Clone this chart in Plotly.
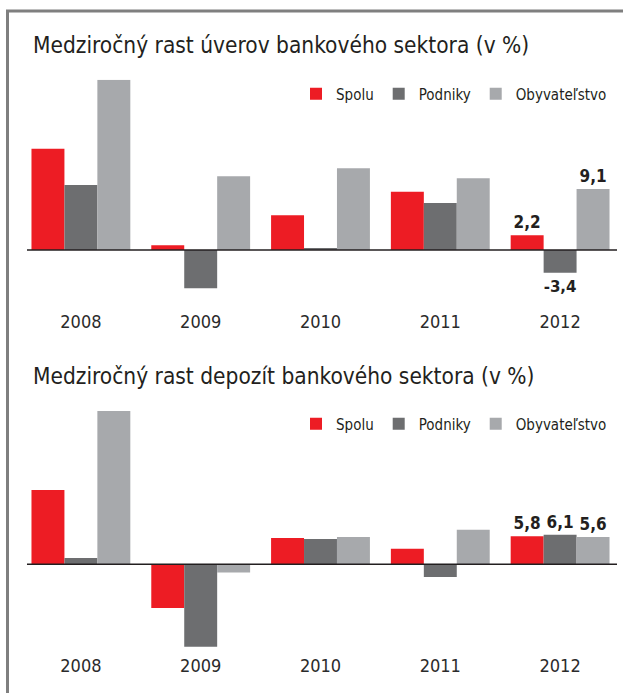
import plotly.graph_objects as go

years = ["2008", "2009", "2010", "2011", "2012"]
series_names = ["Spolu", "Podniky", "Obyvateľstvo"]
colors = ["#ed1c24", "#6d6e70", "#a7a9ac"]

# Medziročný rast úverov (v %)
loans_spolu = [15.1, 0.7, 5.2, 8.7, 2.2]
loans_podniky = [9.7, -5.7, 0.3, 7.0, -3.4]
loans_obyv = [25.4, 11.0, 12.2, 10.7, 9.1]

# Medziročný rast depozít (v %)
dep_spolu = [15.3, -9.0, 5.4, 3.2, 5.8]
dep_podniky = [1.3, -17.0, 5.2, -2.6, 6.1]
dep_obyv = [31.6, -1.7, 5.6, 7.1, 5.6]

title1 = "Medziročný rast úverov bankového sektora (v %)"
title2 = "Medziročný rast depozít bankového sektora (v %)"

FONT = "DejaVu Sans Condensed, Roboto, sans-serif"
TXT = "#231f20"

W, H = 623, 693


def px(x):
    return x / W


def py(y):
    return (H - y) / H


def lab(vals):
    # label only the last year
    return ["" if i < len(vals) - 1 else f"{v:.1f}".replace(".", ",") for i, v in enumerate(vals)]


fig = go.Figure()
panels = [
    ([loans_spolu, loans_podniky, loans_obyv], "x", "y", "legend"),
    ([dep_spolu, dep_podniky, dep_obyv], "x2", "y2", "legend2"),
]
for data, xa, ya, lg in panels:
    for name, vals, col in zip(series_names, data, colors):
        fig.add_trace(go.Bar(
            x=years, y=vals, name=name, marker_color=col, marker_line_width=0,
            xaxis=xa, yaxis=ya, legend=lg,
            text=lab(vals), textposition="outside", cliponaxis=False,
            textfont=dict(family=FONT, size=17, color=TXT, weight="bold"),
        ))

xdom = [px(21), px(620)]
axis_x = dict(domain=xdom, showgrid=False, zeroline=False, showline=False,
              ticks="", tickfont=dict(family=FONT, size=18, color="#2b2b2b"))
leg = dict(orientation="h", xanchor="right", yanchor="middle",
           font=dict(family=FONT, size=15, color=TXT), itemclick=False,
           bgcolor="rgba(0,0,0,0)", borderwidth=0, maxheight=0.3)
fig.update_layout(
    width=W, height=H,
    margin=dict(l=0, r=0, t=0, b=0, pad=0),
    paper_bgcolor="white", plot_bgcolor="white",
    barmode="group", bargap=0.175, bargroupgap=0,
    font=dict(family=FONT, color=TXT),
    xaxis=dict(axis_x, anchor="y", ticklabelstandoff=12),
    xaxis2=dict(axis_x, anchor="y2", ticklabelstandoff=1),
    yaxis=dict(domain=[py(296.9), py(79.8)], range=[-7, 25.4], visible=False, anchor="x"),
    yaxis2=dict(domain=[py(651.6), py(411)], range=[-18, 31.6], visible=False, anchor="x2"),
    legend=dict(leg, x=px(612), y=py(94)),
    legend2=dict(leg, x=px(612), y=py(424)),
    showlegend=True,
    annotations=[
        dict(text=title1, xref="paper", yref="paper", x=px(31), y=py(45),
             xanchor="left", yanchor="middle", showarrow=False,
             font=dict(family=FONT, size=22.5, color=TXT)),
        dict(text=title2, xref="paper", yref="paper", x=px(31), y=py(376),
             xanchor="left", yanchor="middle", showarrow=False,
             font=dict(family=FONT, size=22.5, color=TXT)),
    ],
    shapes=[
        # frame
        dict(type="line", xref="paper", yref="paper", x0=px(6), x1=1, y0=py(11), y1=py(11),
             line=dict(color="#7f7f7f", width=3)),
        dict(type="line", xref="paper", yref="paper", x0=px(7.5), x1=px(7.5), y0=0, y1=py(11),
             line=dict(color="#7f7f7f", width=3)),
        # zero baselines
        dict(type="line", xref="x domain", yref="y", x0=0.01, x1=0.995, y0=0, y1=0,
             line=dict(color=TXT, width=1.5), layer="above"),
        dict(type="line", xref="x2 domain", yref="y2", x0=0.01, x1=0.995, y0=0, y1=0,
             line=dict(color=TXT, width=1.5), layer="above"),
    ],
)

fig.write_html(
    "out.html",
    config={"displayModeBar": False, "staticPlot": True},
    post_script="document.body.style.margin='0px';document.body.style.overflow='hidden';",
)
